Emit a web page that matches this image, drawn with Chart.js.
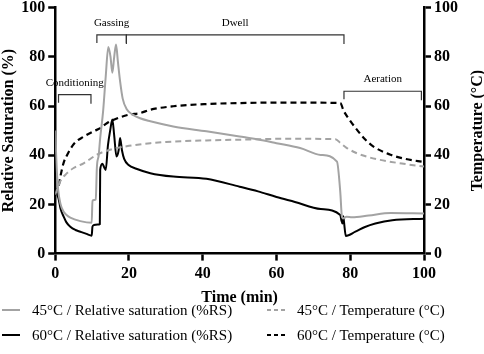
<!DOCTYPE html>
<html><head><meta charset="utf-8">
<script src="https://cdn.jsdelivr.net/npm/chart.js@4.4.1/dist/chart.umd.min.js"></script>
<style>
html,body{margin:0;padding:0;background:#fff;}
#wrap{position:relative;width:484px;height:354px;overflow:hidden;}
#cw{position:absolute;left:-1px;top:-5px;width:487px;height:312px;}
#legend{position:absolute;left:0;top:0;width:484px;height:354px;font-family:"Liberation Serif","Times New Roman",serif;font-size:15px;color:#000;pointer-events:none;}
.item{position:absolute;display:flex;align-items:center;white-space:nowrap;height:18px;line-height:18px;}
.item svg{margin-right:12px;}
</style></head>
<body><div id="wrap"><div id="cw"><canvas id="c"></canvas></div><div id="legend"></div></div>
<script>
// ---- data ----
const seriesLabels = ['45°C / Relative saturation (%RS)', '45°C / Temperature (°C)', '60°C / Relative saturation (%RS)', '60°C / Temperature (°C)'];

const rs45Time   = [0, 0.4, 0.8, 1.4, 2.3, 3, 4.1, 6.8, 9.9, 10.1, 11.0, 11.3, 11.8, 12.2, 13.0, 13.7, 14.4, 15.0, 15.5, 16.0, 16.5, 17.0, 17.6, 18.3, 19.4, 21, 23, 25.8, 32, 41, 50, 55, 60, 66.4, 72, 76.4, 77.3, 77.7, 78, 79, 80.5, 85, 91, 100];
const rs45Values = [50, 35, 26, 20.4, 17, 15.8, 14.6, 13.2, 12.5, 21.5, 22, 35, 40, 47, 58, 72, 84, 80, 73.5, 80, 85, 78, 70, 63, 58.7, 56.5, 55, 53.8, 51.7, 49.7, 47.6, 46.4, 44.9, 42.9, 40.1, 37.4, 25, 15.5, 14.3, 15, 14.8, 15.5, 16.5, 16.3];

const rs60Time   = [0, 0.9, 1.5, 2.3, 3, 4.1, 5.5, 6.8, 8.5, 9.9, 10.1, 10.5, 11.5, 12.1, 12.2, 12.8, 13.3, 13.7, 14.3, 14.9, 15.5, 16.0, 16.6, 17.2, 17.6, 18.1, 18.7, 19.9, 22, 25.8, 32, 41, 50, 55, 60, 65, 72, 77.3, 77.6, 77.9, 78.1, 78.3, 78.8, 81.4, 84, 86.8, 91.4, 100];
const rs60Values = [26.5, 22.4, 18, 15, 12.8, 10.9, 9.6, 8.9, 8.0, 7.3, 10.9, 11.6, 11.8, 12, 34, 36.5, 35, 34, 44, 50, 54.5, 48, 39.5, 42, 47, 42, 38.5, 36, 34.5, 32.7, 31.3, 30.4, 27.2, 25.3, 23, 21, 18.1, 15.7, 13.5, 12.2, 15.2, 13, 7.2, 8.9, 10.8, 12.2, 13.6, 14.2];

const t45Time    = [0, 0.5, 1.4, 3.2, 5, 7.7, 11.3, 14, 16.7, 20, 25.8, 30, 41, 50, 63.7, 76, 77.3, 79, 81.8, 85, 88.1, 94, 100];
const t45Values  = [24, 26, 29.5, 32.7, 34.8, 36.7, 40.2, 41.8, 42.9, 43.8, 44.9, 45.4, 46, 46.3, 46.7, 46.5, 45, 43, 40.8, 39.2, 38.1, 36.6, 35.4];

const t60Time    = [0, 0.9, 1.5, 2.3, 3.2, 4.1, 5.5, 7.7, 10.4, 12.2, 14, 16.7, 20, 23, 25.8, 32, 41, 50, 63.7, 77.3, 78.2, 80, 81.8, 84, 86.3, 90.9, 95, 100];
const t60Values  = [24, 27.2, 32, 37, 40, 42.5, 45.3, 47.5, 49.7, 51, 53, 54.9, 56.5, 57.1, 58.5, 59.9, 60.8, 61.2, 61.4, 61.2, 58.1, 54, 50.4, 46.5, 43.5, 40.2, 38.5, 37.2];

const xTicks = [0, 20, 40, 60, 80, 100];
const yTicks = [0, 20, 40, 60, 80, 100];

const phaseNames = ['Conditioning', 'Gassing', 'Dwell', 'Aeration'];
const phaseStart = [0.9, 11.3, 19.3, 78.3];
const phaseEnd   = [9.7, 19.3, 78.3, 99.3];
const phaseLevel = [64.6, 88.9, 88.9, 66];

// ---- chart ----
const SERIF = '"Liberation Serif", "Times New Roman", serif';
const GRAY = '#a3a3a3';
const pts = (ts, vs) => ts.map((t, i) => ({x: t, y: vs[i]}));

const datasets = [
  {label: seriesLabels[0], data: pts(rs45Time, rs45Values), borderColor: GRAY, borderWidth: 2, yAxisID: 'y'},
  {label: seriesLabels[1], data: pts(t45Time, t45Values), borderColor: GRAY, borderWidth: 2, borderDash: [6, 4], yAxisID: 'y1'},
  {label: seriesLabels[2], data: pts(rs60Time, rs60Values), borderColor: '#000', borderWidth: 2, yAxisID: 'y'},
  {label: seriesLabels[3], data: pts(t60Time, t60Values), borderColor: '#000', borderWidth: 2.2, borderDash: [6, 4], yAxisID: 'y1'}
].map(d => Object.assign({pointRadius: 0, fill: false, tension: 0, cubicInterpolationMode: 'monotone'}, d));

const bracketPlugin = {
  id: 'brackets',
  afterDatasetsDraw(chart) {
    const {ctx, scales: {x, y}} = chart;
    ctx.save();
    ctx.strokeStyle = '#333';
    ctx.lineWidth = 1.2;
    ctx.fillStyle = '#000';
    ctx.font = '11px ' + SERIF;
    ctx.textAlign = 'center';
    ctx.textBaseline = 'middle';
    phaseNames.forEach((name, i) => {
      const x0 = x.getPixelForValue(phaseStart[i]);
      const x1 = x.getPixelForValue(phaseEnd[i]);
      const yy = y.getPixelForValue(phaseLevel[i]);
      ctx.beginPath();
      ctx.moveTo(x0, yy + 8);
      ctx.lineTo(x0, yy);
      ctx.lineTo(x1, yy);
      ctx.lineTo(x1, yy + 9);
      ctx.stroke();
      ctx.fillText(name, (x0 + x1) / 2, yy - 12);
    });
    ctx.restore();
  },
  afterDraw(chart) {
    const {ctx, chartArea} = chart;
    ctx.save();
    ctx.fillStyle = '#000';
    ctx.font = 'bold 16px ' + SERIF;
    ctx.textAlign = 'center';
    ctx.textBaseline = 'middle';
    ctx.translate(chart.width - 8, (chartArea.top + chartArea.bottom) / 2);
    ctx.rotate(-Math.PI / 2);
    ctx.fillText('Temperature (°C)', 0, 0);
    ctx.restore();
  }
};

const tickFont = {family: SERIF, size: 16, weight: 'bold'};
const axisCommon = (ticksArr) => ({
  min: 0, max: 100,
  afterBuildTicks: (s) => { s.ticks = ticksArr.map(v => ({value: v})); },
  ticks: {color: '#000', font: tickFont, padding: 3},
  grid: {display: true, drawOnChartArea: false, drawTicks: true, tickLength: 7, tickWidth: 2.5, tickColor: '#000'},
  border: {display: true, color: '#000', width: 2.5}
});

new Chart(document.getElementById('c'), {
  type: 'line',
  data: {datasets},
  plugins: [bracketPlugin],
  options: {
    responsive: true, maintainAspectRatio: false, animation: false, devicePixelRatio: 1,
    layout: {padding: {left: 0, right: 25, top: 0, bottom: 0}},
    plugins: {legend: {display: false}, tooltip: {enabled: false}},
    scales: {
      x: Object.assign(axisCommon(xTicks), {type: 'linear', position: 'bottom',
        ticks: {color: '#000', font: tickFont, padding: 4},
        title: {display: true, text: 'Time (min)', color: '#000', font: {family: SERIF, size: 16, weight: 'bold'}, padding: {top: 0, bottom: 0}}}),
      y: Object.assign(axisCommon(yTicks), {position: 'left',
        title: {display: true, text: 'Relative Saturation (%)', color: '#000', font: {family: SERIF, size: 16, weight: 'bold'}, padding: {top: 0, bottom: 0}}}),
      y1: Object.assign(axisCommon(yTicks), {position: 'right'})
    }
  }
});

// ---- HTML legend ----
const legend = document.getElementById('legend');
datasets.forEach((d, i) => {
  const col = i % 2, row = Math.floor(i / 2);
  const item = document.createElement('div');
  item.className = 'item';
  item.style.left = (col ? 267 : 2) + 'px';
  item.style.top = (301 + row * 25) + 'px';
  const dash = d.borderDash ? 'stroke-dasharray="4 3"' : '';
  item.innerHTML = '<svg width="18" height="4"><line x1="0" y1="2" x2="18" y2="2" stroke="' + d.borderColor + '" stroke-width="2" ' + dash + '/></svg><span></span>';
  item.querySelector('span').textContent = d.label;
  legend.appendChild(item);
});
</script>
</body></html>
